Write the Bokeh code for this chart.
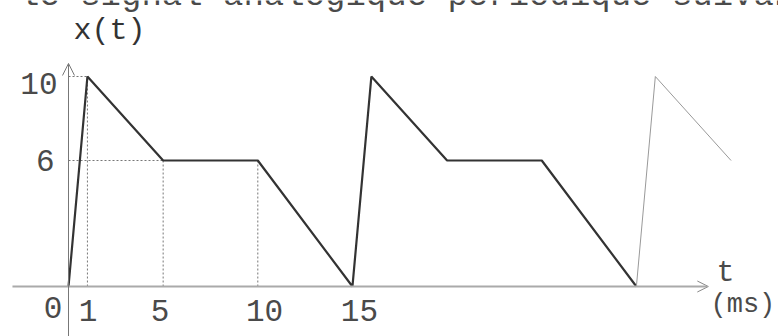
from bokeh.plotting import figure
from bokeh.models import Range1d, Label, Arrow, OpenHead
from bokeh.core.properties import value
from bokeh.embed import file_html
from bokeh.resources import INLINE

# ---- data ----
t_main = [0, 1, 5, 10, 15, 16, 20, 25, 30]
x_main = [0, 10, 6, 6, 0, 10, 6, 6, 0]
t_next = [30, 31, 35]
x_next = [0, 10, 6]
x_ticks = [1, 5, 10, 15]
x_tick_labels = ["1", "5", "10", "15"]
y_ticks = [6, 10]
y_tick_labels = ["6", "10"]
origin_label = "0"
title_text = "le signal analogique périodique suivant"
y_name = "x(t)"
t_name = "t"
t_unit = "(ms)"

# ---- layout ----
W, H = 778, 336
X0_PX, PX_PER_MS = 68, 18.93
Y0_PX, PX_PER_UNIT = 286, 21.0
FONT = value("Liberation Mono")
TXT = "#4a4a4a"

p = figure(width=W, height=H, output_backend="svg", toolbar_location=None,
           x_axis_type=None, y_axis_type=None, min_border=0,
           x_range=Range1d(-X0_PX / PX_PER_MS, (W - X0_PX) / PX_PER_MS),
           y_range=Range1d(-(H - Y0_PX) / PX_PER_UNIT, Y0_PX / PX_PER_UNIT))
p.outline_line_color = None
p.grid.visible = False
p.background_fill_color = "white"
p.border_fill_color = "white"

# dashed guides (from signal vertices)
gx = [t_main[1], t_main[2], t_main[3]]
gy = [x_main[1], x_main[2], x_main[3]]
p.segment(x0=gx, y0=[0] * 3, x1=gx, y1=gy, line_color="#777777",
          line_width=1, line_dash="2 2")
p.segment(x0=[0, 0], y0=[x_main[1], x_main[2]], x1=[t_main[1], t_main[2]],
          y1=[x_main[1], x_main[2]], line_color="#777777", line_width=1,
          line_dash="2 2")

# axes
p.add_layout(Arrow(x_start=-2.96, y_start=0, x_end=33.8, y_end=0,
                   line_color="#aaaaaa", line_width=2,
                   end=OpenHead(size=11, line_color="#888888", line_width=1)))
p.add_layout(Arrow(x_start=0, y_start=p.y_range.start, x_end=0, y_end=10.62,
                   line_color="#777777", line_width=1,
                   end=OpenHead(size=12, line_color="#777777", line_width=1)))

# signal
p.line(t_main, x_main, line_color="#333333", line_width=2.2)
p.line(t_next, x_next, line_color="#999999", line_width=1)

# tick labels
p.text(x=x_ticks, y=[0] * len(x_ticks), text=x_tick_labels,
       x_offset=[0.6, -3, 6.7, 7], y_offset=24,
       text_font=FONT, text_font_size="31px", text_color=TXT,
       text_align="center", text_baseline="alphabetic")
p.text(x=[0] * len(y_ticks), y=y_ticks, text=y_tick_labels,
       x_offset=[-14, -11], y_offset=[0, 7],
       text_font=FONT, text_font_size="31px", text_color=TXT,
       text_align="right", text_baseline="alphabetic")
p.text(x=[0], y=[0], text=[origin_label], x_offset=-15.5, y_offset=21,
       text_font=FONT, text_font_size="31px", text_color=TXT,
       text_align="center", text_baseline="alphabetic")

# other texts (screen units, from bottom)
p.add_layout(Label(x=18.5, y=H + 4.5, x_units="screen", y_units="screen",
                   text=title_text, text_font="Liberation Mono",
                   text_font_size="34px", text_color=TXT,
                   text_baseline="alphabetic"))
p.add_layout(Label(x=73, y=H - 30, x_units="screen", y_units="screen",
                   text=y_name, text_font="Liberation Mono",
                   text_font_size="30px", text_color="#333333",
                   text_baseline="alphabetic"))
p.add_layout(Label(x=725, y=H - 272, x_units="screen", y_units="screen",
                   text=t_name, text_font="Liberation Mono",
                   text_font_size="30px", text_color=TXT,
                   text_align="center", text_baseline="alphabetic"))
p.add_layout(Label(x=710, y=H - 304, x_units="screen", y_units="screen",
                   text=t_unit, text_font="Liberation Mono",
                   text_font_size="27px", text_color=TXT,
                   text_baseline="alphabetic"))

open("out.html", "w").write(file_html(p, INLINE))
